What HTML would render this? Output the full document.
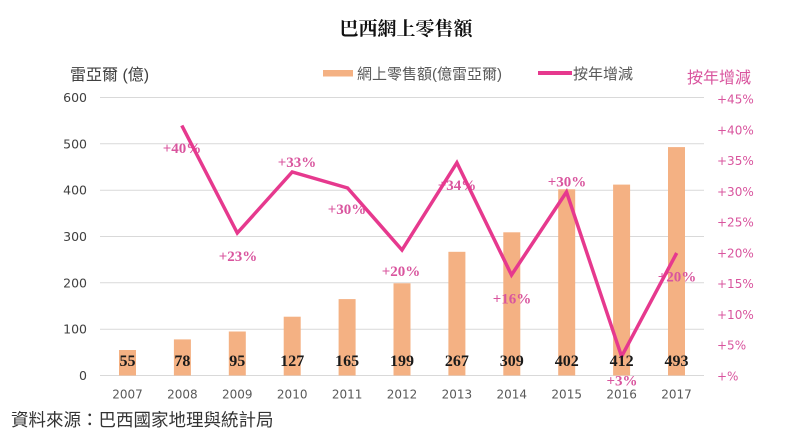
<!DOCTYPE html>
<html><head><meta charset="utf-8">
<style>
html,body{margin:0;padding:0;background:#fff;}
svg{display:block;}
</style></head>
<body>
<svg width="800" height="435" viewBox="0 0 800 435" xmlns="http://www.w3.org/2000/svg">
<rect width="800" height="435" fill="#fff"/>
<!-- title -->
<text x="406" y="35" text-anchor="middle" font-family="'Liberation Serif','Noto Serif CJK SC',serif" font-weight="bold" font-size="19" fill="#111">巴西網上零售額</text>
<!-- unit label -->
<text x="70" y="80" font-family="'Liberation Sans','Noto Sans CJK TC',sans-serif" font-size="16" fill="#404040">雷亞爾 (億)</text>
<!-- legend -->
<rect x="323" y="70" width="30" height="6.5" fill="#F4B183"/>
<text x="357" y="79" font-family="'Liberation Sans','Noto Sans CJK TC',sans-serif" font-size="15" fill="#595959">網上零售額(億雷亞爾)</text>
<line x1="538" y1="73" x2="572" y2="73" stroke="#E6398E" stroke-width="4"/>
<text x="573" y="79" font-family="'Liberation Sans','Noto Sans CJK TC',sans-serif" font-size="15" fill="#595959">按年增減</text>
<text x="687" y="83" font-family="'Liberation Sans','Noto Sans CJK TC',sans-serif" font-size="16" fill="#D9559E">按年增減</text>
<!-- gridlines -->
<g stroke="#D9D9D9" stroke-width="1">
<line x1="100" y1="97.5" x2="704" y2="97.5"/>
<line x1="100" y1="143.8" x2="704" y2="143.8"/>
<line x1="100" y1="190.2" x2="704" y2="190.2"/>
<line x1="100" y1="236.5" x2="704" y2="236.5"/>
<line x1="100" y1="282.8" x2="704" y2="282.8"/>
<line x1="100" y1="329.2" x2="704" y2="329.2"/>
<line x1="100" y1="375.5" x2="704" y2="375.5"/>
</g>
<!-- left axis labels -->
<g font-family="'DejaVu Sans',sans-serif" font-size="12.5" fill="#404040" text-anchor="end">
<text x="87" y="102">600</text>
<text x="87" y="148.3">500</text>
<text x="87" y="194.7">400</text>
<text x="87" y="241">300</text>
<text x="87" y="287.3">200</text>
<text x="87" y="333.7">100</text>
<text x="87" y="380">0</text>
</g>
<!-- right axis labels -->
<g font-family="'DejaVu Sans',sans-serif" font-size="12" fill="#D9559E">
<text x="717" y="103.5">+45%</text>
<text x="717" y="134.3">+40%</text>
<text x="717" y="165.1">+35%</text>
<text x="717" y="195.8">+30%</text>
<text x="717" y="226.6">+25%</text>
<text x="717" y="257.4">+20%</text>
<text x="717" y="288.2">+15%</text>
<text x="717" y="319">+10%</text>
<text x="717" y="349.7">+5%</text>
<text x="717" y="380.5">+%</text>
</g>
<!-- bars -->
<g fill="#F4B183">
<rect x="119" y="350" width="17" height="25.5"/>
<rect x="173.9" y="339.4" width="17" height="36.1"/>
<rect x="228.8" y="331.5" width="17" height="44"/>
<rect x="283.7" y="316.7" width="17" height="58.8"/>
<rect x="338.6" y="299.1" width="17" height="76.4"/>
<rect x="393.5" y="283.3" width="17" height="92.2"/>
<rect x="448.4" y="251.8" width="17" height="123.7"/>
<rect x="503.3" y="232.3" width="17" height="143.2"/>
<rect x="558.2" y="189.3" width="17" height="186.2"/>
<rect x="613.1" y="184.6" width="17" height="190.9"/>
<rect x="668" y="147.1" width="17" height="228.4"/>
</g>
<!-- x labels -->
<g font-family="'DejaVu Sans',sans-serif" font-size="12" fill="#595959" text-anchor="middle">
<text x="127.5" y="398.5">2007</text>
<text x="182.4" y="398.5">2008</text>
<text x="237.3" y="398.5">2009</text>
<text x="292.2" y="398.5">2010</text>
<text x="347.1" y="398.5">2011</text>
<text x="402" y="398.5">2012</text>
<text x="456.9" y="398.5">2013</text>
<text x="511.8" y="398.5">2014</text>
<text x="566.7" y="398.5">2015</text>
<text x="621.6" y="398.5">2016</text>
<text x="676.5" y="398.5">2017</text>
</g>
<!-- pct labels -->
<g font-family="'Liberation Serif',serif" font-weight="bold" font-size="15" fill="#D9559E" text-anchor="middle">
<text x="182" y="153">+40%</text>
<text x="297" y="167">+33%</text>
<text x="238" y="261">+23%</text>
<text x="347" y="214">+30%</text>
<text x="401" y="276">+20%</text>
<text x="457" y="190">+34%</text>
<text x="512" y="303.5">+16%</text>
<text x="567" y="186.5">+30%</text>
<text x="622" y="385.5">+3%</text>
<text x="677" y="281.5">+20%</text>
</g>
<!-- line -->
<polyline fill="none" stroke="#E6398E" stroke-width="3.5" stroke-linejoin="miter" points="181.8,125.5 237.3,233 292.2,172 347.6,188 402,250 456.9,162.7 511.5,275 566.5,192 621.6,356.5 676.7,253"/>
<!-- data labels -->
<g font-family="'Liberation Serif',serif" font-weight="bold" font-size="16" fill="#1a1a1a" text-anchor="middle">
<text x="127.5" y="366">55</text>
<text x="182.4" y="366">78</text>
<text x="237.3" y="366">95</text>
<text x="292.2" y="366">127</text>
<text x="347.1" y="366">165</text>
<text x="402" y="366">199</text>
<text x="456.9" y="366">267</text>
<text x="511.8" y="366">309</text>
<text x="566.7" y="366">402</text>
<text x="621.6" y="366">412</text>
<text x="676.5" y="366">493</text>
</g>
<!-- source -->
<text x="11" y="426" font-family="'Liberation Sans','Noto Sans CJK TC',sans-serif" font-size="17.5" fill="#333">資料來源：巴西國家地理與統計局</text>
</svg>
</body></html>
